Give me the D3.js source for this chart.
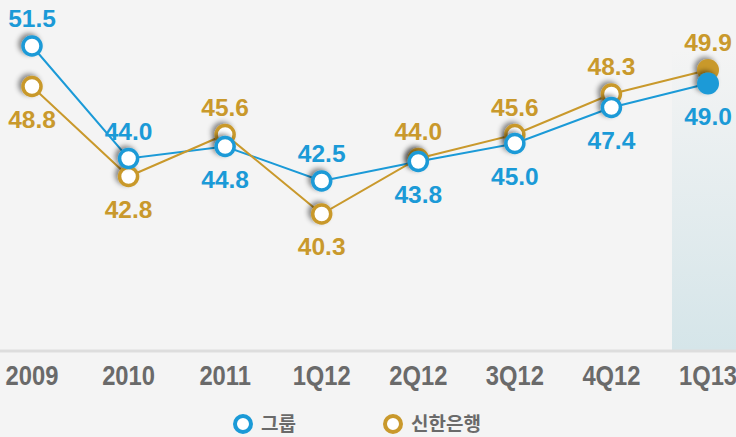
<!DOCTYPE html>
<html>
<head>
<meta charset="utf-8">
<script src="https://cdn.jsdelivr.net/npm/d3@7"></script>
<style>
  body { margin: 0; background: #f4f4f4; }
  svg { display: block; }
</style>
</head>
<body>
<div id="chart"></div>
<script>
const categories = ["2009", "2010", "2011", "1Q12", "2Q12", "3Q12", "4Q12", "1Q13"];
const groupValues = [51.5, 44.0, 44.8, 42.5, 43.8, 45.0, 47.4, 49.0];
const bankValues = [48.8, 42.8, 45.6, 40.3, 44.0, 45.6, 48.3, 49.9];
const seriesNames = ["그룹", "신한은행"];

const width = 736, height = 437;
const blue = "#1b9ad7", gold = "#c9992c";

const svg = d3.select("#chart").append("svg")
  .attr("width", width)
  .attr("height", height);

const defs = svg.append("defs");
const grad = defs.append("linearGradient")
  .attr("id", "hl").attr("x1", 0).attr("x2", 0).attr("y1", 0).attr("y2", 1);
grad.append("stop").attr("offset", "0%").attr("stop-color", "#f4f4f4");
grad.append("stop").attr("offset", "100%").attr("stop-color", "#d5e5e9");

const shadow = defs.append("filter").attr("id", "sh")
  .attr("x", "-100%").attr("y", "-100%").attr("width", "300%").attr("height", "300%");
shadow.append("feDropShadow")
  .attr("dx", -3).attr("dy", -2).attr("stdDeviation", 2.5)
  .attr("flood-color", "#000").attr("flood-opacity", 0.45);

const x = d3.scalePoint().domain(categories).range([32, 708]);
const y = d3.scaleLinear().domain([31, 55]).range([353.5, -6.5]);

// highlighted last column
const last = categories[categories.length - 1];
svg.append("rect")
  .attr("x", x(last) - 36).attr("y", 50)
  .attr("width", width - (x(last) - 36)).attr("height", 300)
  .attr("fill", "url(#hl)");

// baseline
svg.append("line")
  .attr("x1", 0).attr("x2", width).attr("y1", 351).attr("y2", 351)
  .attr("stroke", "#dddddd").attr("stroke-width", 3);

// x axis labels (condensed bold)
svg.append("g").selectAll("text")
  .data(categories)
  .join("text")
  .attr("transform", d => `translate(${x(d)},385) scale(0.88,1)`)
  .attr("text-anchor", "middle")
  .attr("fill", "#6a6a6a")
  .attr("font-family", "Liberation Sans, Arial, sans-serif")
  .attr("font-weight", "bold")
  .attr("font-size", 27)
  .text(d => d);

const series = [
  { name: seriesNames[0], values: groupValues, color: blue },
  { name: seriesNames[1], values: bankValues, color: gold }
];

const line = d3.line().x((d, i) => x(categories[i])).y(d => y(d));

series.forEach(s => {
  svg.append("path")
    .datum(s.values)
    .attr("d", line)
    .attr("fill", "none")
    .attr("stroke", s.color)
    .attr("stroke-width", 2);
});

// markers: gold first, blue on top
[series[1], series[0]].forEach(s => {
  svg.append("g").selectAll("circle")
    .data(s.values)
    .join("circle")
    .attr("cx", (d, i) => x(categories[i]))
    .attr("cy", d => y(d))
    .attr("r", (d, i) => i === categories.length - 1 ? 11 : 9)
    .attr("fill", (d, i) => i === categories.length - 1 ? s.color : "#fff")
    .attr("stroke", s.color)
    .attr("stroke-width", (d, i) => i === categories.length - 1 ? 0 : 3.5)
    .attr("filter", "url(#sh)");
});

// value labels: higher point gets label above, lower below
series.forEach((s, k) => {
  const other = series[1 - k].values;
  svg.append("g").selectAll("text")
    .data(s.values)
    .join("text")
    .attr("x", (d, i) => x(categories[i]))
    .attr("y", (d, i) => d > other[i] ? y(d) - 19 : y(d) + 41)
    .attr("text-anchor", "middle")
    .attr("fill", s.color)
    .attr("font-family", "Liberation Sans, Arial, sans-serif")
    .attr("font-weight", "bold")
    .attr("font-size", 24.5)
    .text(d => d.toFixed(1));
});

// legend
const legend = svg.append("g").selectAll("g")
  .data(series)
  .join("g")
  .attr("transform", (d, i) => `translate(${243 + i * 150},424)`);
legend.append("circle")
  .attr("r", 8)
  .attr("fill", "#fff")
  .attr("stroke", d => d.color)
  .attr("stroke-width", 4);
legend.append("text")
  .attr("x", 18)
  .attr("dy", "0.36em")
  .attr("fill", "#6a6a6a")
  .attr("font-family", "Noto Sans CJK KR, sans-serif")
  .attr("font-weight", "bold")
  .attr("font-size", 19)
  .text(d => d.name);
</script>
</body>
</html>
